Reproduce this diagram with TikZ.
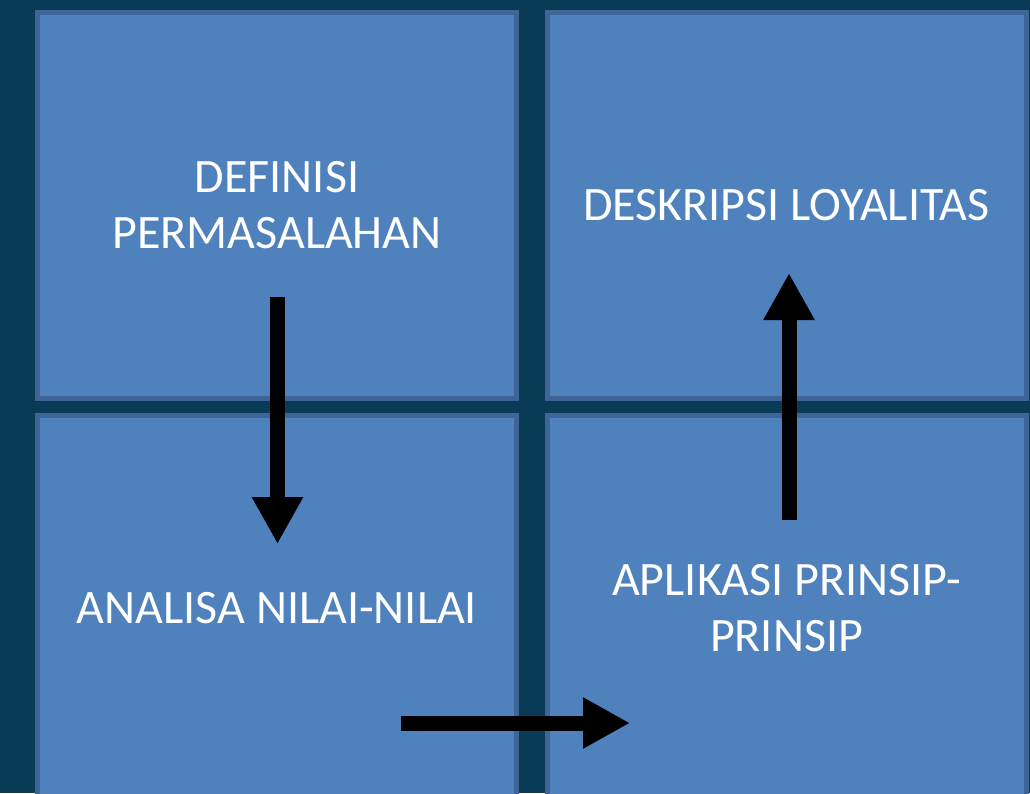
\documentclass[tikz,border=0pt]{standalone}
\usepackage{fontspec}
\setmainfont{Carlito}
\usetikzlibrary{arrows.meta}
\definecolor{bgcol}{HTML}{0A3B56}
\definecolor{boxfill}{HTML}{4F81BD}
\definecolor{boxline}{HTML}{3F6598}
\tikzset{
  panel/.style={draw=boxline, line width=5pt, fill=boxfill, minimum width=479pt, minimum height=386pt,
    inner sep=0pt, align=center, text=white, font=\fontsize{48}{56}\selectfont},
  flow/.style={line width=15pt, -{Triangle[length=47pt,width=48pt]}, draw=black}
}
\begin{document}
\begin{tikzpicture}[x=1pt,y=-1pt]
\useasboundingbox (0,0) rectangle (1030,793);
\clip (0,0) rectangle (1030,793);
\fill[bgcol] (0,0) rectangle (1030,793);
\node[panel] (def) at (277,205.5) {DEFINISI\\PERMASALAHAN};
\node[panel] (desk) at (786.5,205.5) {DESKRIPSI LOYALITAS};
\node[panel] (anal) at (277,608.5) {ANALISA NILAI-NILAI};
\node[panel] (apl) at (786.5,608.5) {APLIKASI PRINSIP-\\PRINSIP};
\coordinate (d1) at (277.5,297);
\coordinate (d2) at (277.5,544);
\coordinate (r1) at (401,723);
\coordinate (r2) at (630,723);
\coordinate (u1) at (789,520);
\coordinate (u2) at (789,273);
\draw[flow] (d1) -- (d2);
\draw[flow] (r1) -- (r2);
\draw[flow] (u1) -- (u2);
\end{tikzpicture}
\end{document}
